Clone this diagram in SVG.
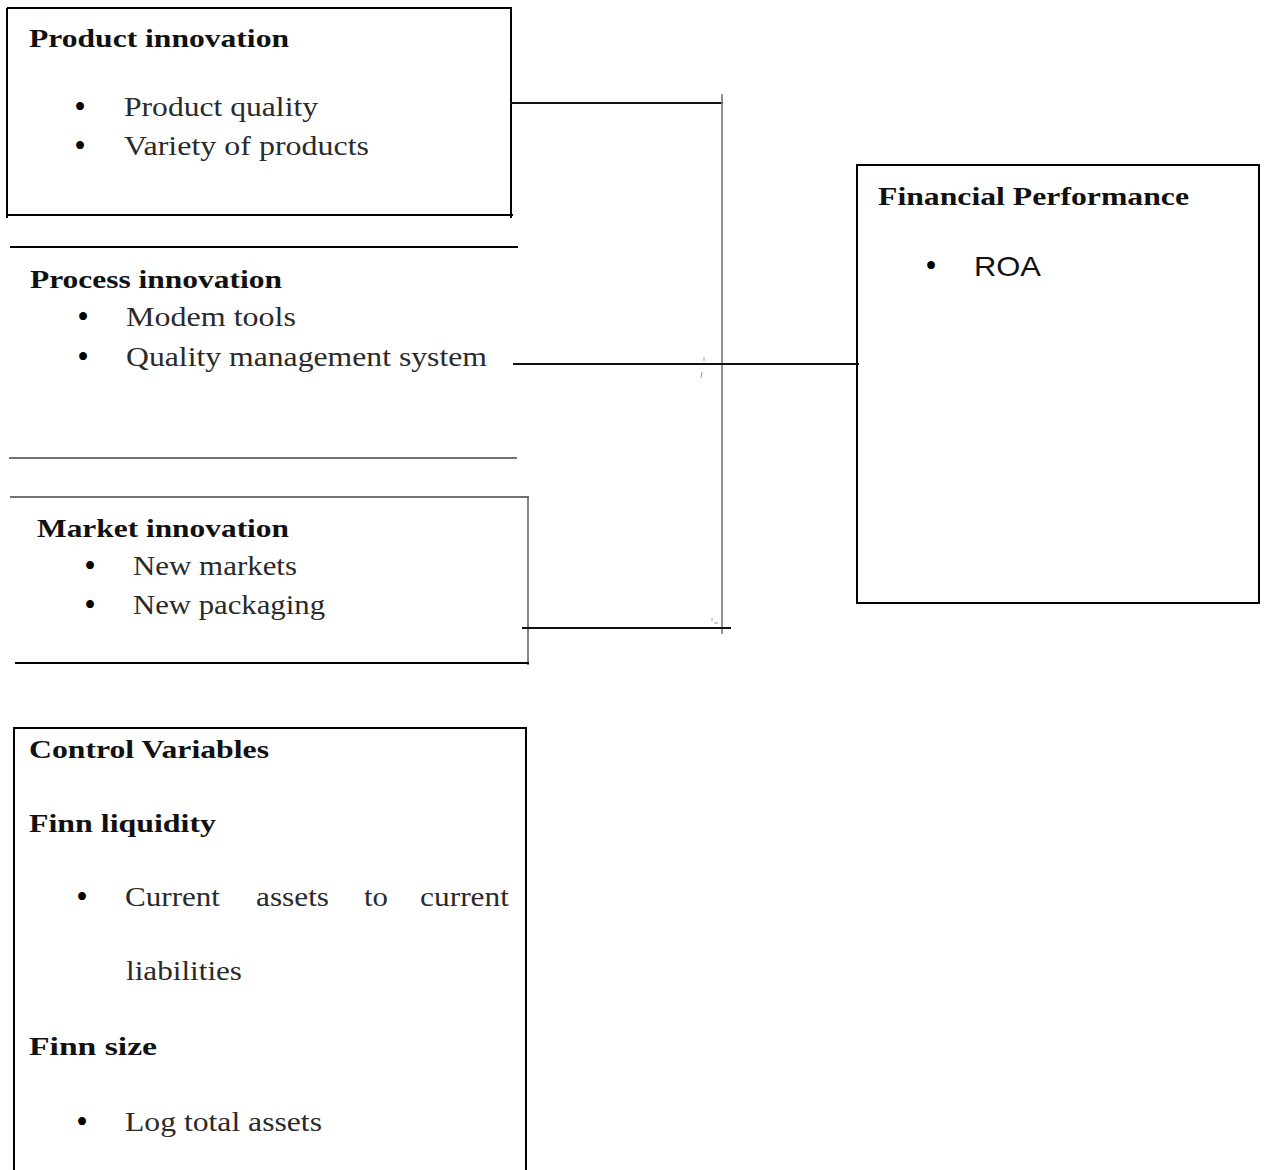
<svg xmlns="http://www.w3.org/2000/svg" width="1265" height="1170" viewBox="0 0 1265 1170">
<style>
.h{font-family:"Liberation Serif","Times New Roman",serif;font-weight:bold;font-size:26px;fill:#111}
.t{font-family:"Liberation Serif","Times New Roman",serif;font-size:26.5px;fill:#2a2a2a}
.a{font-family:"Liberation Sans",Arial,sans-serif;font-size:28px;fill:#111}
.b{font-family:"Liberation Serif","Times New Roman",serif;font-size:33px;fill:#000;text-anchor:middle}
.k{stroke:#000;stroke-width:2;fill:none}
.g{stroke:#444;stroke-width:1.3;fill:none}
.c{stroke:#111;stroke-width:2.2;fill:none}
.v{stroke:#777;stroke-width:1.6;fill:none}
.m{stroke:#999;stroke-width:1;fill:none}
</style>
<rect width="1265" height="1170" fill="#fff"/>
<g id="product-innovation">
<path class="k" d="M7 8V218M7 8H511M511 7V218M6 215H513"/>
<text class="h" x="29" y="47" textLength="260" lengthAdjust="spacingAndGlyphs">Product innovation</text>
<text class="b" x="80" y="118">•</text>
<text class="t" x="124" y="116" textLength="194" lengthAdjust="spacingAndGlyphs">Product quality</text>
<text class="b" x="80" y="157">•</text>
<text class="t" x="124" y="155" textLength="245" lengthAdjust="spacingAndGlyphs">Variety of products</text>
</g>
<g id="process-innovation">
<path class="k" d="M10 247H518"/>
<path class="g" d="M9 458H517"/>
<text class="h" x="30" y="288" textLength="252" lengthAdjust="spacingAndGlyphs">Process innovation</text>
<text class="b" x="83" y="328">•</text>
<text class="t" x="126" y="326" textLength="170" lengthAdjust="spacingAndGlyphs">Modem tools</text>
<text class="b" x="83" y="368">•</text>
<text class="t" x="126" y="366" textLength="361" lengthAdjust="spacingAndGlyphs">Quality management system</text>
</g>
<g id="market-innovation">
<path class="g" d="M10 497H529M528 497V665"/>
<path class="k" d="M15 663H529"/>
<text class="h" x="37" y="537" textLength="252" lengthAdjust="spacingAndGlyphs">Market innovation</text>
<text class="b" x="90" y="577">•</text>
<text class="t" x="133" y="575" textLength="164" lengthAdjust="spacingAndGlyphs">New markets</text>
<text class="b" x="90" y="616">•</text>
<text class="t" x="133" y="614" textLength="192" lengthAdjust="spacingAndGlyphs">New packaging</text>
</g>
<g id="financial-performance">
<path class="k" d="M857 165V604M856 165H1259M1259 164V604M857 603H1260"/>
<text class="h" x="878" y="205" textLength="311" lengthAdjust="spacingAndGlyphs">Financial Performance</text>
<text class="b" x="931" y="277">•</text>
<text class="a" x="974" y="276" textLength="67" lengthAdjust="spacingAndGlyphs">ROA</text>
</g>
<g id="control-variables">
<path class="k" d="M14 728V1170M13 728H527M526 728V1170"/>
<text class="h" x="29" y="758" textLength="240" lengthAdjust="spacingAndGlyphs">Control Variables</text>
<text class="h" x="29" y="832" textLength="187" lengthAdjust="spacingAndGlyphs">Finn liquidity</text>
<text class="b" x="82" y="908">•</text>
<text class="t" x="125" y="906" textLength="95" lengthAdjust="spacingAndGlyphs">Current</text>
<text class="t" x="256" y="906" textLength="73" lengthAdjust="spacingAndGlyphs">assets</text>
<text class="t" x="364" y="906" textLength="24" lengthAdjust="spacingAndGlyphs">to</text>
<text class="t" x="420" y="906" textLength="89" lengthAdjust="spacingAndGlyphs">current</text>
<text class="t" x="126" y="980" textLength="116" lengthAdjust="spacingAndGlyphs">liabilities</text>
<text class="h" x="29" y="1055" textLength="128" lengthAdjust="spacingAndGlyphs">Finn size</text>
<text class="b" x="82" y="1133">•</text>
<text class="t" x="125" y="1131" textLength="197" lengthAdjust="spacingAndGlyphs">Log total assets</text>
</g>
<g id="connectors">
<path class="c" d="M510 103H723"/>
<path class="v" d="M722 94V634"/>
<path class="c" d="M513 364H859"/>
<path class="c" d="M522 628H731"/>
<path class="m" d="M704 357V361M702 372L701 378M712 618V621M714 623H718"/>
</g>
</svg>
